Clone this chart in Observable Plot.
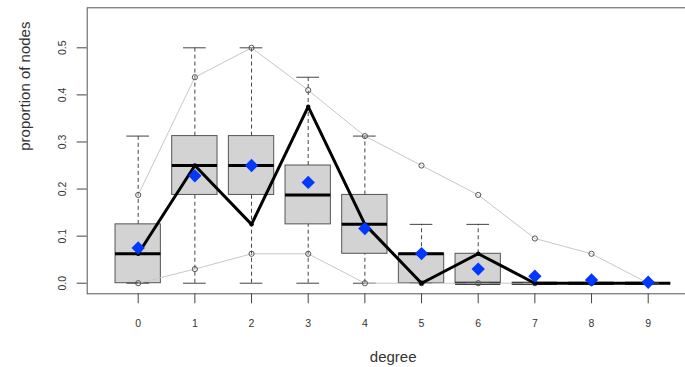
<!DOCTYPE html>
<html>
<head>
<meta charset="utf-8">
<script src="https://cdn.jsdelivr.net/npm/d3@7"></script>
<script src="https://cdn.jsdelivr.net/npm/@observablehq/plot@0.6"></script>
<style>
  html, body { margin: 0; padding: 0; background: #fff; }
  #chart svg { display: block; }
</style>
</head>
<body>
<div id="chart"></div>
<script>
const degree    = [0, 1, 2, 3, 4, 5, 6, 7, 8, 9];
const boxLow    = [0, 0, 0, 0, 0, 0, 0, 0, 0, 0];
const boxQ1     = [0, 0.1875, 0.1875, 0.125, 0.0625, 0, 0, 0, 0, 0];
const boxMed    = [0.0625, 0.25, 0.25, 0.1875, 0.125, 0.0625, 0, 0, 0, 0];
const boxQ3     = [0.125, 0.3125, 0.3125, 0.25, 0.1875, 0.0625, 0.0625, 0, 0, 0];
const boxHigh   = [0.3125, 0.5, 0.5, 0.4375, 0.3125, 0.125, 0.125, 0, 0, 0];
const meanProp  = [0.075, 0.228, 0.25, 0.214, 0.116, 0.063, 0.03, 0.015, 0.007, 0.002];
const observed  = [0.0625, 0.25, 0.125, 0.375, 0.125, 0, 0.0625, 0, 0, 0];
const upperBand = [0.1875, 0.4375, 0.5, 0.41, 0.3125, 0.25, 0.1875, 0.095, 0.0625, 0];
const lowerBand = [0, 0.03, 0.0625, 0.0625, 0, 0, 0, 0, 0, 0];
const yTicks    = [0, 0.1, 0.2, 0.3, 0.4, 0.5];

const rows = degree.map((d, i) => ({
  d, lo: boxLow[i], q1: boxQ1[i], med: boxMed[i], q3: boxQ3[i], hi: boxHigh[i],
  mean: meanProp[i], obs: observed[i], up: upperBand[i], low: lowerBand[i]
}));

const halfBox = 0.4, halfCap = 0.2;
const font = "'Liberation Sans', Arial, Helvetica, sans-serif";

const chart = Plot.plot({
  width: 685,
  height: 367,
  marginTop: 7.3,
  marginBottom: 73.7,
  marginLeft: 86.7,
  marginRight: -13.7,
  x: {domain: [-0.9, 9.9]},
  y: {domain: [-0.0225, 0.585]},
  style: {fontFamily: font, fontSize: "10.5px", color: "#333", background: "#fff"},
  marks: [
    // boxes
    Plot.rect(rows, {x1: r => r.d - halfBox, x2: r => r.d + halfBox, y1: "q1", y2: "q3",
      fill: "#d3d3d3", stroke: "#555", strokeWidth: 1}),
    Plot.ruleY(rows, {y: "med", x1: r => r.d - halfBox, x2: r => r.d + halfBox,
      stroke: "#000", strokeWidth: 3}),
    // whiskers
    Plot.ruleX(rows, {x: "d", y1: "q3", y2: "hi", stroke: "#444", strokeDasharray: "4,3"}),
    Plot.ruleX(rows, {x: "d", y1: "lo", y2: "q1", stroke: "#444", strokeDasharray: "4,3"}),
    Plot.ruleY(rows, {y: "hi", x1: r => r.d - halfCap, x2: r => r.d + halfCap, stroke: "#444"}),
    Plot.ruleY(rows, {y: "lo", x1: r => r.d - halfCap, x2: r => r.d + halfCap, stroke: "#444"}),
    // quantile band lines
    Plot.line(rows, {x: "d", y: "up", stroke: "#c8c8c8", strokeWidth: 1}),
    Plot.line(rows, {x: "d", y: "low", stroke: "#c8c8c8", strokeWidth: 1}),
    Plot.dot(rows, {x: "d", y: "up", r: 2.6, stroke: "#555", fill: "none", strokeWidth: 1}),
    Plot.dot(rows, {x: "d", y: "low", r: 2.6, stroke: "#555", fill: "none", strokeWidth: 1}),
    // observed
    Plot.line(rows, {x: "d", y: "obs", stroke: "#000", strokeWidth: 3, strokeLinejoin: "miter"}),
    Plot.dot(rows, {x: "d", y: "obs", r: 2.2, fill: "#000"}),
    // means
    Plot.dot(rows, {x: "d", y: "mean", symbol: "diamond2", r: 6, fill: "#0038ff", stroke: "none"}),
    // frame & axes
    Plot.frame({stroke: "#555", strokeWidth: 1}),
    Plot.axisX({ticks: degree, tickFormat: d => String(d), tickSize: 10, tickPadding: 16,
      label: null, stroke: "#444", fill: "#333"}),
    Plot.axisY({ticks: yTicks, tickFormat: d => d.toFixed(1), tickSize: 10, tickRotate: -90,
      tickPadding: 11, label: null, stroke: "#444", fill: "#333"}),
    Plot.text(["degree"], {frameAnchor: "bottom", dy: 68, fontSize: 15, fill: "#333"}),
    Plot.text(["proportion of nodes"], {frameAnchor: "left", dx: -61.7, rotate: -90, fontSize: 15, fill: "#333"})
  ]
});
document.getElementById("chart").appendChild(chart);
</script>
</body>
</html>
